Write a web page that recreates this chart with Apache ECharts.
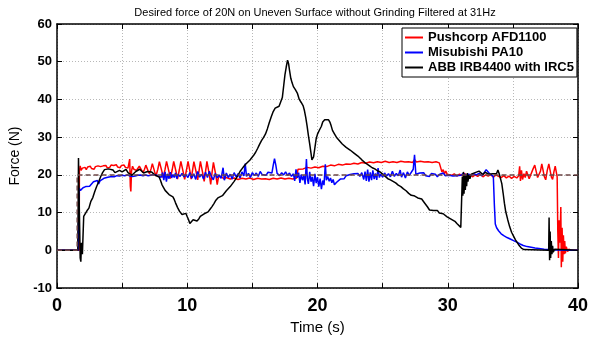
<!DOCTYPE html>
<html>
<head>
<meta charset="utf-8">
<script src="https://cdn.jsdelivr.net/npm/echarts@6/dist/echarts.min.js"></script>
<style>
  html, body { margin: 0; padding: 0; background: #fff; }
  #chart { width: 604px; height: 340px; }
</style>
</head>
<body>
<div id="chart"></div>
<script>
// Axis ranges and tick spacing
const xTicks = { min: 0, max: 40, step: 5, labelEvery: 10 };
const yTicks = { min: -10, max: 60, step: 10 };

const seriesNames = ['Pushcorp AFD1100', 'Misubishi PA10', 'ABB IRB4400 with IRC5'];

// Desired force (reference step to 20 N), [time s, force N]
const desired = [[0, 0], [1.55, 0], [1.55, 20], [40, 20]];

// Pushcorp AFD1100 measured force
const pushcorp = [
  [0,0],[1.7,0],[1.72,21.0],[1.78,22.4],[1.85,21.2],[1.95,21.8],[2.05,21.3],[2.15,22.0],[2.25,21.4],[2.35,22.1],
  [2.45,21.6],[2.55,22.3],[2.65,21.7],[2.75,22.0],[2.85,21.5],[2.95,22.2],[3.05,21.8],[3.15,22.4],[3.25,21.9],[3.35,22.2],
  [3.45,21.7],[3.55,22.4],[3.65,22.0],[3.75,22.5],[3.85,21.9],[3.95,22.3],[4.05,22.0],[4.15,22.6],[4.25,22.1],[4.35,22.5],
  [4.45,22.2],[4.55,22.7],[4.65,22.1],[4.75,22.4],[4.85,21.9],[4.95,22.5],[5.05,22.2],[5.15,22.6],[5.25,22.0],[5.35,22.3],
  [5.45,21.8],[5.52,22.2],[5.58,24.2],[5.63,17.0],[5.67,15.6],[5.72,21.0],[5.8,22.3],[5.9,21.5],[6.0,22.0],[6.1,21.2],
  [6.22,21.6],[6.32,22.3],[6.4,22.2],[6.5,21.2],[6.6,20.6],[6.72,21.5],[6.82,22.6],[6.9,22.5],[7.0,21.0],[7.1,20.3],
  [7.22,21.6],[7.32,23.0],[7.4,22.9],[7.5,20.8],[7.6,19.7],[7.74,21.5],[7.86,23.5],[7.95,23.4],[8.05,21.0],[8.15,19.2],
  [8.29,21.4],[8.41,23.6],[8.5,23.5],[8.6,20.8],[8.7,19.0],[8.84,21.3],[8.96,23.6],[9.05,23.5],[9.15,20.7],[9.25,18.9],
  [9.39,21.3],[9.51,23.6],[9.6,23.5],[9.7,20.6],[9.8,18.8],[9.94,21.3],[10.06,23.6],[10.14,23.4],[10.22,20.7],[10.3,18.9],
  [10.41,21.3],[10.51,23.5],[10.6,23.3],[10.7,20.5],[10.8,18.7],[10.91,21.2],[11.01,23.6],[11.1,23.4],[11.2,20.3],[11.3,18.3],
  [11.41,21.0],[11.51,23.6],[11.6,23.3],[11.7,20.0],[11.8,17.5],[11.91,20.8],[12.01,23.3],[12.1,23.0],[12.2,19.8],[12.3,17.4],
  [12.4,19.5],[12.5,19.3],[12.6,19.6],[12.8,19.0],[13.0,19.3],[13.3,18.9],
  [13.6,19.2],[13.9,18.8],[14.2,19.1],[14.5,18.9],[14.8,19.2],[15.1,18.8],[15.4,19.1],[15.7,18.9],[16.0,19.0],[16.3,18.8],
  [16.6,19.1],[16.9,18.9],[17.2,19.2],[17.5,18.9],[17.8,19.1],[18.1,18.9],[18.4,19.2],[18.5,21.5],[18.6,21.8],[18.9,21.6],
  [19.2,22.0],[19.5,21.8],[19.8,22.1],[20.1,21.9],[20.4,22.3],[20.7,22.2],[21.0,22.6],[21.3,22.4],[21.6,22.8],[21.9,22.6],
  [22.2,22.9],[22.5,22.8],[22.8,23.1],[23.1,22.9],[23.4,23.3],[23.7,23.1],[24.0,23.4],[24.3,23.2],[24.6,23.5],[24.9,23.3],
  [25.2,23.6],[25.5,23.3],[25.8,23.5],[26.1,23.3],[26.4,23.6],[26.7,23.4],[27.0,23.5],[27.3,23.3],[27.45,24.0],[27.6,23.4],
  [27.9,23.6],[28.2,23.4],[28.5,23.5],[28.8,23.3],[29.1,23.5],[29.35,23.2],[29.45,22.0],[29.55,20.8],[29.65,21.4],[29.75,20.3],
  [29.85,21.0],[29.95,20.2],[30.1,20.6],[30.3,19.9],[30.5,20.3],[30.7,19.7],[30.9,20.2],[31.1,19.8],[31.3,20.4],[31.5,19.6],
  [31.7,20.1],[31.9,19.5],[32.1,20.0],[32.3,19.6],[32.5,20.2],[32.7,19.5],[32.9,20.0],[33.1,19.7],[33.3,20.1],[33.5,19.4],
  [33.7,20.0],[33.9,19.6],[34.1,19.3],[34.3,19.8],[34.5,19.2],[34.7,19.7],[34.9,19.1],[35.1,19.6],[35.3,19.2],[35.45,19.8],
  [35.52,22.3],[35.58,18.4],[35.66,21.2],[35.74,18.8],[35.85,20.3],[35.95,19.3],[36.05,21.0],[36.15,20.6],[36.25,19.0],[36.4,19.3],
  [36.55,21.6],[36.68,22.6],[36.76,22.4],[36.9,19.3],[37.0,18.8],[37.12,21.0],[37.22,22.9],[37.3,22.8],[37.42,19.5],[37.52,18.7],
  [37.64,21.2],[37.76,22.9],[37.84,22.8],[37.96,19.4],[38.05,18.8],[38.15,20.8],[38.25,22.3],[38.33,22.0],[38.4,19.5],
  [38.45,5.0],[38.5,-2.0],[38.55,8.0],[38.62,2.0],
  [38.68,11.5],[38.72,-4.5],[38.78,6.0],[38.83,-3.0],[38.88,4.0],[38.93,-1.0],[38.98,2.5],[39.03,-0.8],[39.1,1.0],[39.2,-0.3],
  [39.3,0.3],[39.5,0],[40,0]
];

// Misubishi PA10 measured force
const misubishi = [
  [0,0],[1.62,0],[1.7,16.5],[1.8,15.9],[1.9,16.4],[2.0,16.6],[2.1,16.3],[2.2,16.9],[2.35,17.2],[2.5,17.0],
  [2.65,17.6],[2.8,18.2],[2.95,17.9],[3.1,18.5],[3.2,17.6],[3.3,18.4],[3.45,18.9],[3.6,19.1],[3.75,19.0],[3.9,19.4],
  [4.05,19.3],[4.2,19.6],[4.4,19.5],[4.6,19.8],[4.8,19.7],[5.0,19.9],[5.2,19.8],[5.4,20.0],[5.6,19.7],[5.8,19.6],
  [6.0,19.7],[6.2,19.9],[6.4,20.0],[6.6,19.8],[6.8,20.0],[7.0,19.8],[7.2,19.9],[7.4,20.1],[7.6,20.0],[7.8,19.6],
  [8.0,19.4],[8.1,20.6],[8.2,18.6],[8.3,20.8],[8.4,18.2],[8.5,20.3],[8.6,19.0],[8.7,20.7],[8.8,19.2],[8.9,20.1],
  [9.0,19.3],[9.1,20.5],[9.2,19.0],[9.3,20.2],[9.45,19.6],[9.6,20.4],[9.75,19.5],[9.9,20.1],[10.05,19.3],[10.2,20.6],
  [10.35,19.1],[10.5,20.3],[10.65,18.8],[10.8,20.9],[10.95,19.4],[11.1,20.2],[11.25,18.9],[11.4,20.7],[11.55,19.3],[11.7,21.0],
  [11.85,19.6],[12.0,18.7],[12.15,20.4],[12.3,19.2],[12.45,20.0],[12.6,19.1],[12.75,21.9],[12.85,18.6],[13.0,20.5],[13.15,19.3],
  [13.3,20.2],[13.45,18.9],[13.6,20.6],[13.75,19.5],[13.9,20.3],[14.05,19.2],[14.2,20.8],[14.35,19.7],[14.45,23.0],[14.55,19.6],
  [14.7,20.4],[14.85,19.3],[15.0,20.6],[15.15,19.8],[15.3,20.5],[15.45,19.6],[15.6,20.9],[15.75,20.1],[15.9,20.6],[16.05,19.9],
  [16.2,20.7],[16.35,20.2],[16.5,20.5],[16.6,22.5],[16.7,24.3],[16.8,22.6],[16.9,20.4],[17.0,20.9],[17.1,19.8],[17.25,20.6],
  [17.4,20.0],[17.55,20.8],[17.7,19.9],[17.85,20.5],[18.0,19.6],[18.15,20.3],[18.25,18.4],[18.35,21.5],[18.45,19.2],[18.55,20.6],
  [18.65,17.9],[18.75,20.1],[18.85,18.6],[18.95,19.8],[19.05,17.5],[19.15,24.2],[19.22,19.0],[19.3,17.6],[19.4,20.8],[19.5,18.2],
  [19.6,19.5],[19.7,17.0],[19.8,20.3],[19.9,17.8],[20.0,19.4],[20.1,16.9],[20.2,19.0],[20.3,16.2],[20.4,18.5],[20.5,17.3],
  [20.6,22.8],[20.68,18.6],[20.78,19.6],[20.9,18.3],[21.0,19.2],[21.1,17.9],[21.2,18.8],[21.3,17.4],[21.45,18.0],[21.6,18.5],
  [21.75,18.9],[21.9,19.3],[22.05,19.0],[22.2,19.8],[22.35,19.5],[22.5,20.1],[22.65,19.7],[22.8,20.3],[22.95,19.9],[23.1,20.4],
  [23.25,19.6],[23.4,20.6],[23.55,18.8],[23.65,20.9],[23.75,18.4],[23.85,21.4],[23.95,18.2],[24.05,20.7],[24.15,18.6],[24.25,21.2],
  [24.35,18.9],[24.45,20.4],[24.55,18.7],[24.65,21.8],[24.75,19.3],[24.85,20.2],[25.0,19.4],[25.15,20.5],[25.3,19.7],[25.45,20.3],
  [25.6,19.5],[25.75,21.0],[25.9,19.6],[26.05,20.4],[26.2,19.8],[26.35,21.3],[26.45,19.4],[26.6,20.6],[26.75,19.2],[26.9,20.8],
  [27.05,19.9],[27.2,20.4],[27.35,21.5],[27.45,25.3],[27.55,20.2],[27.7,19.7],[27.85,20.5],[28.0,20.0],[28.15,20.6],[28.3,19.8],
  [28.45,20.3],[28.6,19.6],[28.75,20.4],[28.9,19.9],[29.05,20.2],[29.2,19.5],[29.35,20.1],[29.5,19.7],[29.65,20.5],[29.8,19.8],
  [29.95,20.2],[30.1,19.9],[30.25,20.4],[30.4,19.7],[30.55,20.1],[30.7,19.8],[30.85,20.3],[31.0,19.9],[31.2,20.4],[31.4,19.8],
  [31.6,20.2],[31.8,19.9],[32.0,20.3],[32.2,20.0],[32.4,20.4],[32.6,19.8],[32.8,20.6],[32.95,21.4],[33.1,20.8],[33.25,20.2],
  [33.4,20.0],[33.5,19.6],[33.58,12.0],[33.65,7.0],[33.75,6.0],[33.9,5.2],[34.1,4.4],[34.3,3.9],[34.55,3.4],[34.8,3.0],
  [35.05,2.6],[35.3,2.2],[35.55,1.7],[35.8,1.3],[36.1,1.0],[36.4,0.8],[36.7,0.6],[37.0,0.5],[37.4,0.3],[37.8,0.2],
  [38.4,0.1],[39.0,0],[40,0]
];

// ABB IRB4400 with IRC5 measured force
const abb = [
  [0,0],[1.6,0],[1.65,24.5],[1.72,10.0],[1.78,-2.0],[1.83,-3.0],[1.88,2.0],[1.95,-1.0],[2.05,9.0],[2.15,9.6],
  [2.3,10.5],[2.45,11.2],[2.6,13.0],[2.75,14.0],[2.9,15.6],[3.05,17.0],[3.2,18.2],[3.35,19.5],[3.5,20.6],[3.65,21.4],
  [3.8,21.8],[3.95,21.6],[4.1,21.7],[4.3,21.3],[4.45,20.6],[4.6,20.9],[4.8,21.2],[5.0,20.8],[5.15,21.3],[5.3,21.5],
  [5.45,20.6],[5.6,20.1],[5.75,19.9],[5.9,20.4],[6.05,20.9],[6.2,21.1],[6.35,21.5],[6.5,21.0],[6.65,20.5],[6.8,20.3],
  [6.95,20.9],[7.1,21.3],[7.25,20.8],[7.4,20.3],[7.55,19.9],[7.7,19.7],[7.85,19.4],[7.95,18.5],[8.05,17.5],[8.15,16.8],
  [8.3,15.9],[8.45,15.4],[8.6,14.8],[8.75,14.6],[8.9,14.2],[9.0,13.5],[9.1,12.6],[9.25,11.4],[9.4,10.4],[9.5,9.9],
  [9.6,9.5],[9.75,9.6],[9.9,9.8],[10.0,8.9],[10.1,8.1],[10.2,7.1],[10.3,7.3],[10.45,8.1],[10.6,8.3],[10.75,7.8],
  [10.9,8.4],[11.0,9.0],[11.15,9.2],[11.3,9.7],[11.45,9.6],[11.6,10.2],[11.75,10.9],[11.9,11.6],[12.05,12.4],[12.2,13.3],
  [12.35,13.9],[12.5,14.2],[12.7,14.5],[12.85,15.0],[13.0,15.8],[13.15,16.3],[13.3,16.9],[13.45,17.4],[13.6,18.3],[13.75,19.1],
  [13.9,19.9],[14.05,20.9],[14.2,21.6],[14.35,22.3],[14.5,22.9],[14.65,23.4],[14.8,23.9],[14.95,24.4],[15.1,25.2],[15.25,26.0],
  [15.4,27.0],[15.55,28.1],[15.7,29.1],[15.85,29.9],[16.0,30.8],[16.15,32.2],[16.3,33.9],[16.45,35.4],[16.6,36.8],[16.75,37.7],
  [16.9,38.0],[17.05,38.2],[17.2,38.6],[17.3,40.5],[17.4,43.5],[17.5,46.5],[17.6,48.6],[17.7,50.4],[17.78,49.5],[17.85,47.8],
  [17.95,45.6],[18.05,44.4],[18.15,43.4],[18.3,42.6],[18.45,41.7],[18.6,40.0],[18.75,39.2],[18.9,38.3],[19.0,37.0],[19.1,35.2],
  [19.2,33.0],[19.3,30.5],[19.4,28.2],[19.5,25.8],[19.57,24.0],[19.63,23.6],[19.7,24.8],[19.8,27.2],[19.9,29.6],[20.0,30.8],
  [20.15,31.9],[20.3,32.9],[20.4,34.0],[20.55,34.6],[20.7,34.5],[20.85,34.6],[20.95,34.0],[21.05,33.0],[21.15,31.8],[21.3,30.9],
  [21.45,30.0],[21.6,29.6],[21.75,28.8],[21.9,28.2],[22.05,27.9],[22.2,27.3],[22.35,26.9],[22.5,26.6],[22.65,26.2],[22.8,25.8],
  [22.95,25.6],[23.1,25.0],[23.25,24.5],[23.4,24.0],[23.55,23.6],[23.7,23.1],[23.85,22.6],[24.0,22.4],[24.2,21.9],[24.4,21.6],
  [24.6,21.1],[24.8,20.8],[25.0,20.2],[25.2,19.6],[25.4,19.0],[25.6,18.7],[25.8,18.3],[26.0,17.9],[26.2,17.3],[26.4,16.9],
  [26.6,16.3],[26.8,15.8],[27.0,15.1],[27.2,14.6],[27.4,14.5],[27.55,14.6],[27.7,13.9],[27.85,13.5],[28.0,13.6],[28.15,12.9],
  [28.3,12.4],[28.45,11.5],[28.6,10.7],[28.75,10.3],[28.9,10.6],[29.05,10.9],[29.2,10.6],[29.35,9.9],[29.5,9.5],[29.65,9.7],
  [29.8,9.4],[29.95,8.9],[30.1,8.5],[30.25,8.3],[30.4,7.9],[30.55,7.7],[30.7,7.1],[30.85,6.6],[31.0,6.1],[31.08,5.6],
  [31.12,19.5],[31.16,14.5],[31.2,20.8],[31.25,15.0],[31.3,20.2],[31.35,16.0],[31.4,19.8],[31.45,17.0],[31.5,20.5],[31.55,18.2],
  [31.62,20.0],[31.7,19.0],[31.8,20.2],[31.95,20.0],[32.1,20.6],[32.25,20.3],[32.4,21.0],[32.55,20.5],[32.7,20.1],[32.85,20.7],
  [33.0,20.4],[33.15,20.2],[33.3,20.6],[33.45,20.3],[33.6,20.7],[33.75,20.4],[33.85,21.3],[33.95,20.3],[34.05,19.8],[34.15,17.7],
  [34.25,15.2],[34.35,12.5],[34.45,10.3],[34.6,8.2],[34.75,6.3],[34.9,4.8],[35.05,3.8],[35.2,2.8],[35.35,2.0],[35.5,1.2],
  [35.65,0.6],[35.85,0.2],[36.0,0],[37.75,0],[37.78,8.7],[37.82,-2.6],[37.86,5.0],[37.9,-2.0],[37.95,2.5],[38.0,-1.0],
  [38.05,1.2],[38.1,-0.5],[38.2,0.3],[38.3,0],[40,0]
];

const FONT = '"Liberation Sans", Arial, Helvetica, sans-serif';
const chart = echarts.init(document.getElementById('chart'), null, { renderer: 'canvas' });

const gridDotted = { show: true, lineStyle: { color: '#b8b8b8', type: [1, 2], width: 1 } };
const boxLine = { show: true, onZero: false, lineStyle: { color: '#000', width: 1.5 } };
const inTick = { show: true, inside: true, length: 5, lineStyle: { color: '#000', width: 1 } };

function traceSeries(name, data, color, z) {
  return {
    name, type: 'line', data, xAxisIndex: 0, yAxisIndex: 0,
    symbol: 'none', showSymbol: false, animation: false, z,
    lineStyle: { color, width: 1.5 }, itemStyle: { color }
  };
}

chart.setOption({
  animation: false,
  backgroundColor: '#fff',
  textStyle: { fontFamily: FONT },
  grid: { left: 57, right: 26, top: 24, bottom: 46, containLabel: false },
  graphic: [{
    type: 'text', x: 315, y: 7,
    style: {
      text: 'Desired force of 20N on Uneven Surface without Grinding Filtered at 31Hz',
      font: '11px ' + FONT, fill: '#000', textAlign: 'center'
    }
  }],
  legend: {
    orient: 'vertical', left: 402, top: 28,
    padding: [2, 3, 2, 3], itemGap: 0, itemWidth: 18, itemHeight: 2,
    backgroundColor: '#fff', borderColor: '#000', borderWidth: 1, borderRadius: 0,
    textStyle: { fontSize: 13, fontWeight: 'bold', color: '#000', fontFamily: FONT, lineHeight: 15 },
    data: seriesNames.map(n => ({ name: n, icon: 'rect' }))
  },
  xAxis: [{
    type: 'value', position: 'bottom', min: xTicks.min, max: xTicks.max, interval: xTicks.step,
    axisLine: boxLine, axisTick: inTick, splitLine: gridDotted,
    axisLabel: {
      margin: 9, fontSize: 18, fontWeight: 'bold', color: '#000', fontFamily: FONT,
      formatter: v => (v % xTicks.labelEvery === 0 ? String(v) : '')
    },
    name: 'Time (s)', nameLocation: 'middle', nameGap: 30,
    nameTextStyle: { fontSize: 15, color: '#000', fontFamily: FONT }
  }, {
    type: 'value', position: 'top', min: xTicks.min, max: xTicks.max, interval: xTicks.step,
    axisLine: boxLine, axisTick: inTick, splitLine: { show: false }, axisLabel: { show: false }
  }],
  yAxis: [{
    type: 'value', position: 'left', min: yTicks.min, max: yTicks.max, interval: yTicks.step,
    axisLine: boxLine, axisTick: inTick, splitLine: gridDotted,
    axisLabel: { margin: 5, fontSize: 13, fontWeight: 'bold', color: '#000', fontFamily: FONT },
    name: 'Force (N)', nameLocation: 'middle', nameGap: 28,
    nameTextStyle: { fontSize: 14, color: '#000', fontFamily: FONT }
  }, {
    type: 'value', position: 'right', min: yTicks.min, max: yTicks.max, interval: yTicks.step,
    axisLine: boxLine, axisTick: inTick, splitLine: { show: false }, axisLabel: { show: false }
  }],
  series: [
    traceSeries(seriesNames[0], pushcorp, '#ff0000', 2),
    traceSeries(seriesNames[1], misubishi, '#0000ff', 3),
    traceSeries(seriesNames[2], abb, '#000000', 4),
    {
      name: 'Desired', type: 'line', data: desired, symbol: 'none', animation: false, z: 5,
      lineStyle: { color: '#6b4444', width: 1.5, type: [5, 3] }
    }
  ]
});
</script>
</body>
</html>
